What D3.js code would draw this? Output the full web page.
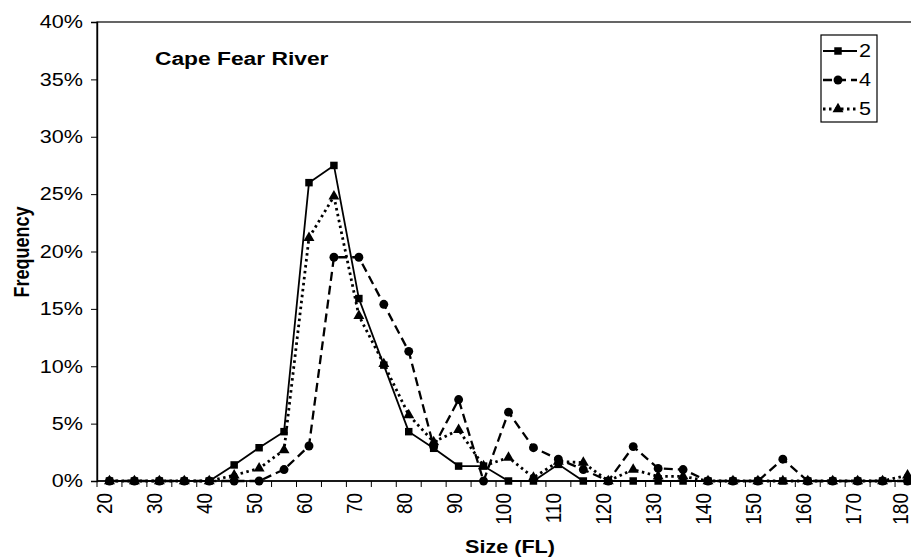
<!DOCTYPE html>
<html>
<head>
<meta charset="utf-8">
<script src="https://cdn.jsdelivr.net/npm/d3@7"></script>
<style>
  body { margin: 0; background: #fff; }
  svg { display: block; font-family: "Liberation Sans", Arial, sans-serif; }
</style>
</head>
<body>
<div id="chart"></div>
<script>
'use strict';

// size classes (FL), one category every 5
const sizes = [20, 25, 30, 35, 40, 45, 50, 55, 60, 65, 70, 75, 80, 85, 90, 95, 100,
    105, 110, 115, 120, 125, 130, 135, 140, 145, 150, 155, 160, 165, 170, 175, 180];
const sizeLabels = [20, 30, 40, 50, 60, 70, 80, 90, 100, 110, 120, 130, 140, 150, 160, 170, 180];

// frequencies, in percent
const freq2 = [0, 0, 0, 0, 0, 1.4, 2.9, 4.3, 26.0, 27.5, 15.9, 10.1, 4.3, 2.85, 1.3, 1.3, 0,
    0, 1.45, 0, 0, 0, 0, 0, 0, 0, 0, 0, 0, 0, 0, 0, 0];
const freq4 = [0, 0, 0, 0, 0, 0, 0, 1.0, 3.05, 19.5, 19.5, 15.4, 11.3, 3.0, 7.1, 0, 6.0,
    2.9, 1.9, 1.0, 0, 3.0, 1.1, 1.0, 0, 0, 0, 1.9, 0, 0, 0, 0, 0];
const freq5 = [0, 0, 0, 0, 0, 0.5, 1.1, 2.7, 21.2, 24.8, 14.4, 10.2, 5.75, 3.4, 4.45, 1.3, 2.05,
    0.3, 1.7, 1.6, 0, 1.0, 0.4, 0.4, 0, 0, 0, 0, 0, 0, 0, 0, 0.5];

const yTicks = [0, 5, 10, 15, 20, 25, 30, 35, 40];

const series = [
    {name: '2', values: freq2, dash: null, width: 1.8, marker: 'square'},
    {name: '4', values: freq4, dash: '9,5', width: 2.3, marker: 'circle'},
    {name: '5', values: freq5, dash: '2.5,3.5', width: 2.8, marker: 'triangle'}
];

const W = 911, H = 560;
const plot = {left: 97, top: 22, right: 920, bottom: 481};
const SX = 1.2; // the scan is stretched sideways, so are its letters

const svg = d3.select('#chart').append('svg').attr('width', W).attr('height', H);

const x = d3.scaleBand().domain(sizes).range([plot.left, plot.right]).padding(0);
const y = d3.scaleLinear().domain([0, 40]).range([plot.bottom, plot.top]);
const cx = d => x(d) + x.bandwidth() / 2;

// plot area border
svg.append('rect')
    .attr('x', plot.left).attr('y', plot.top)
    .attr('width', plot.right - plot.left).attr('height', plot.bottom - plot.top)
    .attr('fill', 'none').attr('stroke', '#000').attr('stroke-width', 1.2);

// y axis
const yAxis = svg.append('g')
    .attr('transform', `translate(${plot.left},0)`)
    .call(d3.axisLeft(y).tickValues(yTicks).tickSize(6).tickPadding(0).tickFormat(d => d + '%'));
yAxis.select('.domain').attr('stroke-width', 1.4);
yAxis.selectAll('.tick text')
    .attr('x', null)
    .attr('transform', `translate(-14,0) scale(${SX},1)`)
    .attr('font-size', 18).attr('fill', '#000')
    .attr('font-family', '"Liberation Sans", Arial, sans-serif');

// x axis: ticks between categories, labels every other class
const xAxis = svg.append('g');
xAxis.append('line')
    .attr('x1', plot.left).attr('x2', plot.right)
    .attr('y1', plot.bottom).attr('y2', plot.bottom)
    .attr('stroke', '#000').attr('stroke-width', 1.5);
xAxis.selectAll('line.tick')
    .data(sizes.concat([null]))
    .join('line')
    .attr('class', 'tick')
    .attr('x1', d => d === null ? plot.right : x(d))
    .attr('x2', d => d === null ? plot.right : x(d))
    .attr('y1', plot.bottom).attr('y2', plot.bottom + 6)
    .attr('stroke', '#000');
xAxis.selectAll('text')
    .data(sizeLabels)
    .join('text')
    .attr('transform', d => `translate(${Math.min(cx(d) - 5, W - 11)},${plot.bottom + 12}) scale(${SX},1) rotate(-90)`)
    .attr('text-anchor', 'end')
    .attr('dy', '0.35em')
    .attr('font-size', 19)
    .text(d => d);

// axis titles
svg.append('text')
    .attr('transform', `translate(29,252) scale(${SX},1) rotate(-90)`)
    .attr('text-anchor', 'middle')
    .attr('font-weight', 'bold').attr('font-size', 18)
    .text('Frequency');
svg.append('text')
    .attr('transform', `translate(510,553) scale(${SX},1)`)
    .attr('text-anchor', 'middle')
    .attr('font-weight', 'bold').attr('font-size', 18)
    .text('Size (FL)');

svg.append('text')
    .attr('transform', `translate(155,65) scale(${SX},1)`)
    .attr('font-weight', 'bold').attr('font-size', 19)
    .text('Cape Fear River');

// markers
const symbols = {
    square: d3.symbol().type(d3.symbolSquare).size(56),
    circle: d3.symbol().type(d3.symbolCircle).size(62),
    triangle: d3.symbol().type(d3.symbolTriangle).size(52)
};

const line = d3.line().x(d => cx(d.size)).y(d => y(d.v));

series.forEach(s => {
    const pts = sizes.map((size, i) => ({size, v: s.values[i]}));
    const g = svg.append('g');
    g.append('path')
        .datum(pts)
        .attr('d', line)
        .attr('fill', 'none')
        .attr('stroke', '#000')
        .attr('stroke-width', s.width)
        .attr('stroke-dasharray', s.dash);
    g.selectAll('path.pt')
        .data(pts)
        .join('path')
        .attr('class', 'pt')
        .attr('transform', d => `translate(${cx(d.size)},${y(d.v)})`)
        .attr('d', symbols[s.marker]());
});

// legend
const legend = svg.append('g');
legend.append('rect')
    .attr('x', 821).attr('y', 35).attr('width', 56).attr('height', 87)
    .attr('fill', '#fff').attr('stroke', '#000').attr('stroke-width', 1.2);
const items = legend.selectAll('g.item')
    .data(series)
    .join('g')
    .attr('class', 'item')
    .attr('transform', (d, i) => `translate(0,${51 + i * 29})`);
items.append('line')
    .attr('x1', 823).attr('x2', 857)
    .attr('stroke', '#000')
    .attr('stroke-width', d => d.width)
    .attr('stroke-dasharray', d => d.dash);
items.append('path')
    .attr('transform', 'translate(838,0)')
    .attr('d', d => symbols[d.marker]());
items.append('text')
    .attr('transform', `translate(859,0) scale(${SX},1)`)
    .attr('dy', '0.36em')
    .attr('font-size', 18)
    .text(d => d.name);
</script>
</body>
</html>
